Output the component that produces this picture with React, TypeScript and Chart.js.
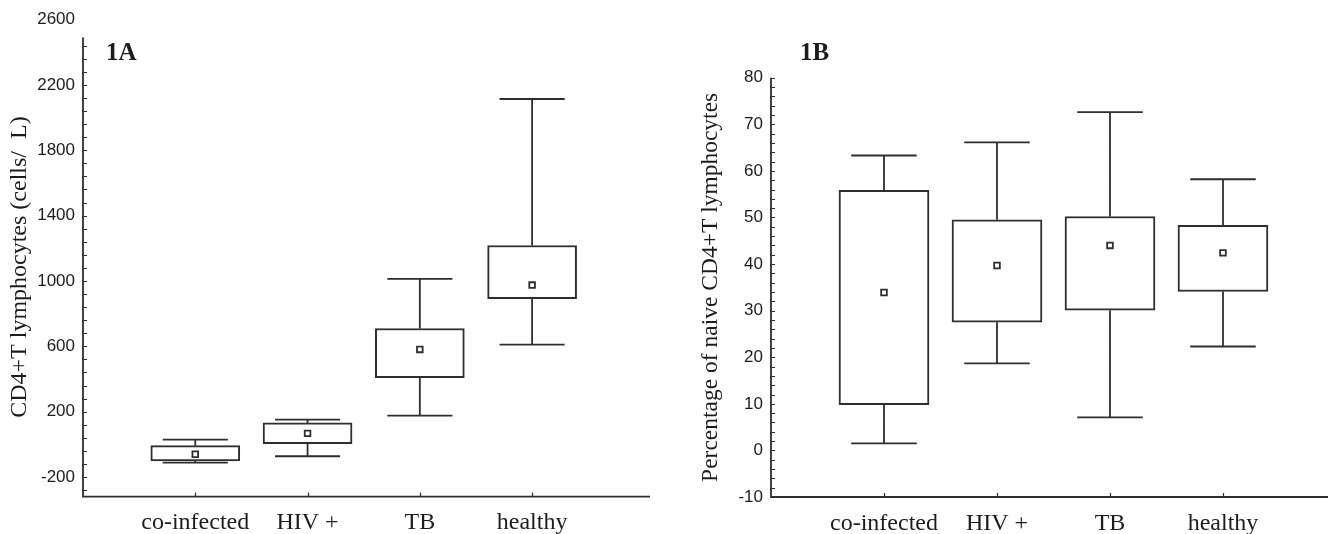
import React, { useEffect, useRef } from "react";
import { Chart, registerables } from "chart.js";

Chart.register(...registerables);

// ---------- data ----------
const categories = ["co-infected", "HIV +", "TB", "healthy"];
const categoryPositions = [1, 2, 3, 4];

// Panel 1A: CD4+T lymphocytes (cells/µL)
const aMin = [-112, -73, 176, 610];
const aQ1 = [-101, 4, 408, 891];
const aMean = [-61, 67, 581, 975];
const aQ3 = [-8, 131, 709, 1217];
const aMax = [29, 151, 1013, 2114];
const aTicks = [-200, 200, 600, 1000, 1400, 1800, 2200, 2600];

// Panel 1B: percentage of naive CD4+T lymphocytes
const bMin = [1.5, 18.7, 7.1, 22.3];
const bQ1 = [9.8, 27.5, 30.1, 34.1];
const bMean = [33.9, 39.7, 44.0, 42.4];
const bQ3 = [55.8, 49.5, 50.2, 48.3];
const bMax = [63.3, 66.1, 72.6, 58.2];
const bTicks = [-10, 0, 10, 20, 30, 40, 50, 60, 70, 80];

const LINE = "#2e2e2e";
const TEXT = "#1c1c1c";
const SERIF = '"Liberation Serif", "Times New Roman", serif';
const SANS = '"Liberation Sans", Arial, sans-serif';

const boxPlotPlugin = {
  id: "boxPlot",
  beforeDatasetsDraw(chart: any, _args: any, opts: any) {
    const { ctx, chartArea } = chart;
    const xs = chart.scales.x;
    const ys = chart.scales.y;
    ctx.save();
    ctx.strokeStyle = LINE;
    ctx.lineCap = "butt";

    // axes
    const x0 = chartArea.left;
    const yb = ys.getPixelForValue(opts.axisMin);
    const yt = ys.getPixelForValue(opts.axisTop);
    ctx.lineWidth = 1.8;
    ctx.beginPath();
    ctx.moveTo(x0, yt);
    ctx.lineTo(x0, yb);
    ctx.lineTo(chartArea.right, yb);
    ctx.stroke();

    // minor ticks on y (pointing inside)
    ctx.lineWidth = 1.2;
    ctx.beginPath();
    for (let k = -50; k < 2000; k++) {
      const v = opts.tickBase + k * opts.minorStep;
      if (v <= opts.axisMin + 1e-9 || v > opts.axisTop + 1e-9) continue;
      const y = Math.round(ys.getPixelForValue(v)) + 0.5;
      ctx.moveTo(x0, y);
      ctx.lineTo(x0 + 4, y);
    }
    // x ticks at categories
    for (const p of categoryPositions) {
      const x = Math.round(xs.getPixelForValue(p)) + 0.5;
      ctx.moveTo(x, yb);
      ctx.lineTo(x, yb - 4);
    }
    ctx.stroke();

    // whiskers
    ctx.lineWidth = 1.8;
    ctx.beginPath();
    opts.positions.forEach((p: number, i: number) => {
      const x = xs.getPixelForValue(p);
      const xl = xs.getPixelForValue(p - opts.capHalf);
      const xr = xs.getPixelForValue(p + opts.capHalf);
      const yMax = ys.getPixelForValue(opts.maxs[i]);
      const yQ3 = ys.getPixelForValue(opts.q3s[i]);
      const yQ1 = ys.getPixelForValue(opts.q1s[i]);
      const yMin = ys.getPixelForValue(opts.mins[i]);
      ctx.moveTo(x, yQ3);
      ctx.lineTo(x, yMax);
      ctx.moveTo(xl, yMax);
      ctx.lineTo(xr, yMax);
      ctx.moveTo(x, yQ1);
      ctx.lineTo(x, yMin);
      ctx.moveTo(xl, yMin);
      ctx.lineTo(xr, yMin);
    });
    ctx.stroke();

    // panel label
    ctx.fillStyle = TEXT;
    ctx.font = `bold 25px ${SERIF}`;
    ctx.textBaseline = "alphabetic";
    ctx.textAlign = "left";
    ctx.fillText(opts.label, opts.labelX, opts.labelY);

    // y-axis title, centred on the drawn axis line
    ctx.save();
    ctx.translate(opts.titleX, (yt + yb) / 2);
    ctx.rotate(-Math.PI / 2);
    ctx.font = `${opts.titleSize}px ${SERIF}`;
    ctx.textAlign = "center";
    ctx.textBaseline = "middle";
    ctx.fillText(opts.title, 0, 0);
    ctx.restore();

    ctx.restore();
  },
};

function makeConfig(p: any) {
  const boxes = categoryPositions.map((x, i) => ({ x, y: [p.q1[i], p.q3[i]] }));
  const means = categoryPositions.map((x, i) => ({ x, y: p.mean[i] }));
  return {
    type: "bar",
    data: {
      datasets: [
        {
          type: "bar",
          data: boxes,
          backgroundColor: "#ffffff",
          borderColor: LINE,
          borderWidth: 2,
          borderSkipped: false,
          barThickness: p.barThickness,
          grouped: false,
          order: 2,
        },
        {
          type: "line",
          data: means,
          showLine: false,
          pointStyle: "rect",
          pointRadius: 4,
          pointBorderWidth: 1.8,
          pointBackgroundColor: "#ffffff",
          pointBorderColor: LINE,
          order: 1,
        },
      ],
    },
    options: {
      responsive: false,
      animation: false,
      events: [],
      layout: { padding: p.padding },
      plugins: {
        legend: { display: false },
        tooltip: { enabled: false },
        boxPlot: {
          axisMin: p.yMin,
          axisTop: p.axisTop,
          tickBase: p.ticks[0],
          minorStep: p.minorStep,
          capHalf: p.capHalf,
          positions: categoryPositions,
          mins: p.min,
          maxs: p.max,
          q1s: p.q1,
          q3s: p.q3,
          label: p.label,
          labelX: p.labelX,
          labelY: p.labelY,
          title: p.title,
          titleX: p.titleX,
          titleSize: p.titleSize,
        },
      },
      scales: {
        x: {
          type: "linear",
          min: 0,
          max: p.xMax,
          offset: false,
          grid: { display: false, drawTicks: false, offset: false },
          border: { display: false },
          afterBuildTicks: (scale: any) => {
            scale.ticks = categoryPositions.map((v) => ({ value: v }));
          },
          afterFit: (scale: any) => {
            scale.height = p.xAxisHeight;
          },
          ticks: {
            autoSkip: false,
            maxRotation: 0,
            padding: p.xLabelPad,
            color: TEXT,
            font: { family: SERIF, size: 24 },
            callback: (v: number) => {
              const i = categoryPositions.indexOf(v);
              return i >= 0 ? categories[i] : "";
            },
          },
        },
        y: {
          type: "linear",
          min: p.yMin,
          max: p.yMax,
          grid: { display: false, drawTicks: false },
          border: { display: false },
          afterBuildTicks: (scale: any) => {
            scale.ticks = p.ticks.map((v: number) => ({ value: v }));
          },
          afterFit: (scale: any) => {
            scale.width = p.yAxisWidth;
          },
          ticks: {
            padding: 8,
            color: TEXT,
            font: { family: SANS, size: 17 },
            callback: (v: number) => String(v),
          },
        },
      },
    },
    plugins: [boxPlotPlugin],
  };
}

const panelA = {
  min: aMin, q1: aQ1, mean: aMean, q3: aQ3, max: aMax, ticks: aTicks,
  yMin: -320, yMax: 2600, axisTop: 2490, minorStep: 80,
  xMax: 5.05, barThickness: 89, capHalf: 0.29,
  padding: { top: 19.6, right: 14, left: 0, bottom: 0 },
  yAxisWidth: 83, xAxisHeight: 37.4, xLabelPad: 12,
  title: "CD4+T lymphocytes (cells/  L)", titleX: 20, titleSize: 24,
  label: "1A", labelX: 106, labelY: 60,
  canvasWidth: 664,
};

const panelB = {
  min: bMin, q1: bQ1, mean: bMean, q3: bQ3, max: bMax, ticks: bTicks,
  yMin: -10, yMax: 80, axisTop: 80, minorStep: 2,
  xMax: 4.94, barThickness: 90, capHalf: 0.29,
  padding: { top: 77.7, right: 0, left: 0, bottom: 0 },
  yAxisWidth: 107, xAxisHeight: 37, xLabelPad: 12,
  title: "Percentage of naive CD4+T lymphocytes", titleX: 47, titleSize: 23.5,
  label: "1B", labelX: 136, labelY: 60,
  canvasWidth: 671,
};

function BoxChart({ panel }: { panel: any }) {
  const ref = useRef<HTMLCanvasElement | null>(null);
  useEffect(() => {
    if (!ref.current) return;
    const chart = new Chart(ref.current, makeConfig(panel) as any);
    return () => chart.destroy();
  }, [panel]);
  return <canvas ref={ref} width={panel.canvasWidth} height={534} style={{ display: "block" }} />;
}

export default function App() {
  return (
    <div style={{ position: "fixed", left: 0, top: 0, width: 1328, height: 534, background: "#fff", overflow: "hidden" }}>
      <div style={{ position: "absolute", left: 0, top: 0, width: 664, height: 534 }}>
        <BoxChart panel={panelA} />
      </div>
      <div style={{ position: "absolute", left: 664, top: 0, width: 671, height: 534 }}>
        <BoxChart panel={panelB} />
      </div>
    </div>
  );
}
